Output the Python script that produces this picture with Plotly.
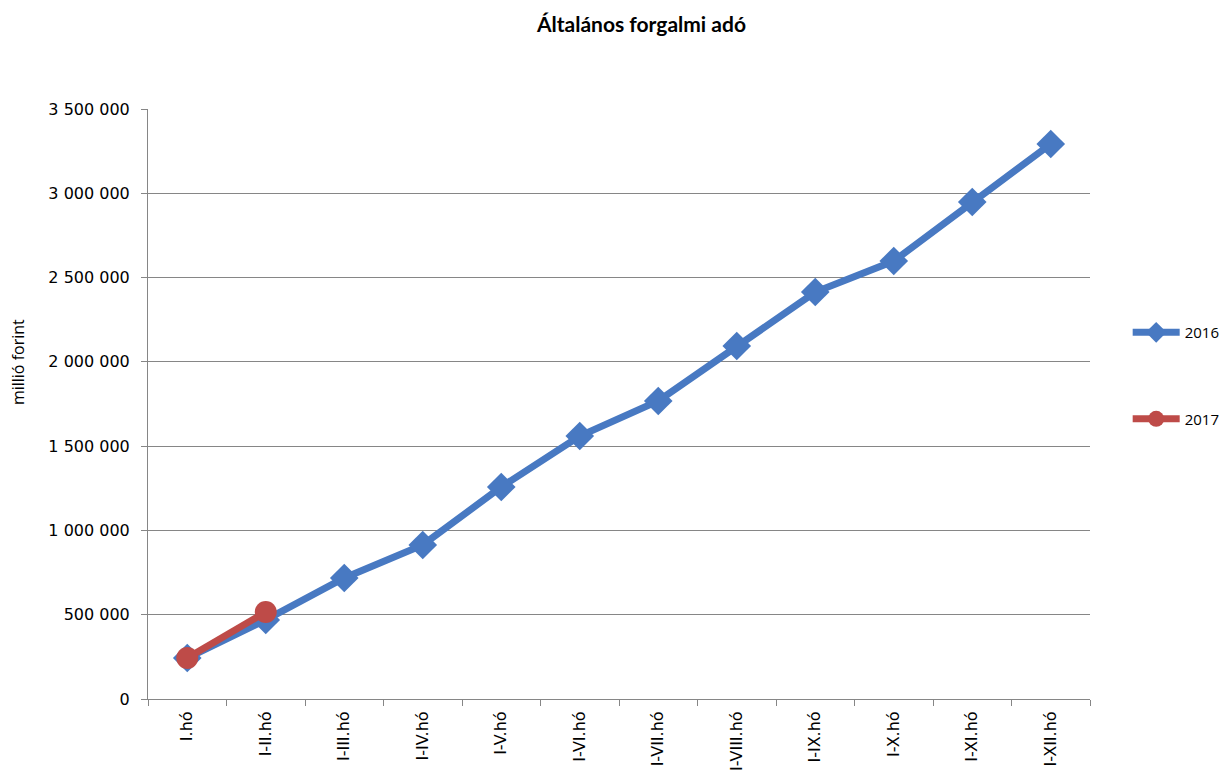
import plotly.graph_objects as go

categories = ["I.hó", "I-II.hó", "I-III.hó", "I-IV.hó", "I-V.hó", "I-VI.hó",
              "I-VII.hó", "I-VIII.hó", "I-IX.hó", "I-X.hó", "I-XI.hó", "I-XII.hó"]
values_2016 = [243000, 469000, 718000, 914000, 1258000, 1560000,
               1768000, 2094000, 2414000, 2598000, 2948000, 3292000]
values_2017 = [243000, 516000]
y_ticks = [0, 500000, 1000000, 1500000, 2000000, 2500000, 3000000, 3500000]

fig = go.Figure()
fig.add_trace(go.Scatter(
    x=categories, y=values_2016, name="2016", mode="lines+markers",
    line=dict(color="#4879C2", width=7),
    marker=dict(symbol="diamond", size=22, color="#4879C2"),
    legendgroup="a",
))
fig.add_trace(go.Scatter(
    x=categories[:len(values_2017)], y=values_2017, name="2017", mode="lines+markers",
    line=dict(color="#BE4B48", width=7),
    marker=dict(symbol="circle", size=22, color="#BE4B48"),
    legendgroup="b",
))

fig.update_layout(
    width=1230, height=778,
    paper_bgcolor="white", plot_bgcolor="white",
    separators=", ",
    margin=dict(l=140, r=148, t=101, b=87),
    title=dict(text="<b>Általános forgalmi adó</b>", x=0.515, xanchor="center",
               y=0.978, yanchor="middle",
               font=dict(family="Lato", size=21, color="#000")),
    font=dict(family="DejaVu Sans", size=16, color="#000"),
    legend=dict(x=1.040, y=0.649, xanchor="left", yanchor="top",
                tracegroupgap=64, traceorder="grouped",
                font=dict(family="Open Sans", size=15, color="#000"),
                itemwidth=47),
    showlegend=True,
    annotations=[dict(text="millió forint", xref="paper", yref="paper",
                      x=-0.138, y=0.571, xanchor="center", yanchor="middle",
                      textangle=-90, showarrow=False,
                      font=dict(family="Open Sans", size=16, color="#000"))],
)
fig.update_xaxes(
    type="category", showgrid=False, showline=True, linecolor="#868686", linewidth=1,
    ticks="outside", tickson="boundaries", ticklen=6, tickcolor="#868686",
    tickangle=-90, tickfont=dict(family="DejaVu Sans", size=16),
    ticklabelstandoff=5,
    range=[-0.5, 11.5],
)
fig.update_yaxes(
    range=[0, 3500000], tickvals=y_ticks, tickformat=",d",
    showgrid=True, gridcolor="#868686", gridwidth=1,
    showline=True, linecolor="#868686", linewidth=1,
    ticks="outside", ticklen=6, tickcolor="#868686",
    tickfont=dict(family="DejaVu Sans", size=16),
    ticklabelstandoff=8,
    zeroline=False,
)

fig.write_html("out.html")
